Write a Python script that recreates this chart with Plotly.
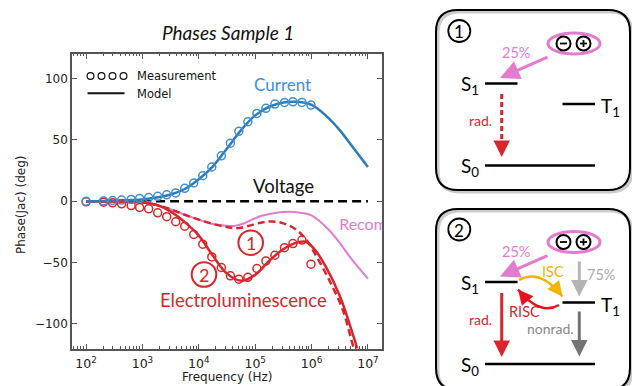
import plotly.graph_objects as go

W, H = 632, 386

# ---------------- data ----------------
meas_freq = [100, 204, 295, 427, 631, 891, 1288, 1862, 2692, 3890, 5623, 8128,
             11750, 16980, 25120, 36310, 51290, 74130, 107200, 154900, 223900,
             331100, 467700, 676100, 977200]
current_meas = [0, 0.3, 0.6, 1.0, 1.5, 2.3, 3.0, 4.0, 5.2, 6.8, 10.5, 14.9, 20.8,
                27.9, 37.0, 47.3, 57.0, 64.8, 71.6, 75.7, 79.2, 80.5, 81.0, 80.5, 78.4]
el_meas = [-0.5, -0.8, -1.3, -2.1, -3.5, -5.1, -6.2, -9.4, -12.6, -16.7, -20.3, -27.0,
           -35.0, -45.4, -54.0, -60.8, -63.5, -62.0, -54.8, -48.6, -44.0, -37.8,
           -34.5, -31.6, -51.3]

current_model_logf = [2.0, 2.5, 3.0, 3.25, 3.5, 3.75, 4.0, 4.25, 4.5, 4.75, 5.0, 5.25,
                      5.5, 5.75, 6.0, 6.25, 6.5, 6.75, 7.0]
current_model = [0, 0.5, 1.5, 3.0, 5.5, 10.0, 18.0, 28.5, 43.0, 58.0, 70.0, 77.0,
                 80.5, 81.0, 78.5, 70.0, 58.0, 43.0, 28.0]

el2_model_logf = [2.0, 2.5, 3.0, 3.25, 3.5, 3.75, 4.0, 4.25, 4.5, 4.75, 5.0, 5.25,
                  5.5, 5.75, 5.9, 6.05, 6.25, 6.5, 6.75, 7.0]
el2_model = [0, -0.3, -0.8, -3.0, -8.5, -17.0, -28.0, -44.5, -59.0, -64.8, -60.0,
             -48.5, -39.0, -33.5, -33.0, -39.0, -53.0, -77.0, -111.0, -150.0]

el1_model_logf = [2.0, 2.5, 3.0, 3.25, 3.5, 3.75, 4.0, 4.25, 4.5, 4.65, 4.85, 5.1,
                  5.3, 5.5, 5.72, 5.9, 6.1, 6.3, 6.55, 6.75, 7.0]
el1_model = [0, -0.3, -1.0, -3.0, -6.5, -11.0, -15.0, -18.5, -21.0, -22.0, -20.5,
             -17.5, -16.5, -18.0, -23.0, -31.0, -46.0, -63.0, -88.0, -120.0, -155.0]

recomb_model_logf = [2.0, 2.5, 3.0, 3.25, 3.5, 3.75, 4.0, 4.25, 4.5, 4.65, 4.8, 5.1,
                     5.35, 5.6, 5.8, 6.0, 6.3, 6.5, 6.7, 7.0]
recomb_model = [0, -0.3, -1.0, -3.0, -6.5, -11.0, -15.0, -18.5, -20.0, -20.0, -18.0,
                -12.0, -9.5, -8.6, -9.3, -11.5, -23.0, -34.0, -46.5, -63.0]

voltage_logf = [2.0, 7.0]
voltage_model = [0, 0]

x_tick_exp = [2, 3, 4, 5, 6, 7]
y_ticks = [-100, -50, 0, 50, 100]

# label anchor for the clipped "Recomb." text (data coords: log10 f, phase)
recomb_label_logf = 6.49
recomb_label_phase = -20.5

# ---------------- colours ----------------
BLUE = "#2b7bba"
BLUE_L = "#3f8fd2"
RED = "#d9262c"
PINK = "#e27ccf"
GOLD = "#f2b400"
GRAY_L = "#b4b4b4"
GRAY_D = "#747474"
AX = "#555555"


def X(p):
    return p / W


def Y(p):
    return 1 - p / H


def hz(lst):
    return [10 ** v for v in lst]


fig = go.Figure()

fig.add_trace(go.Scatter(x=hz(voltage_logf), y=voltage_model, mode="lines",
                         line=dict(color="black", width=2.5, dash="9px,5px")))
fig.add_trace(go.Scatter(x=hz(recomb_model_logf), y=recomb_model, mode="lines",
                         line=dict(color=PINK, width=2, shape="spline")))
fig.add_trace(go.Scatter(x=hz(el1_model_logf), y=el1_model, mode="lines",
                         line=dict(color=RED, width=2.5, shape="spline", dash="7px,4px")))
fig.add_trace(go.Scatter(x=hz(el2_model_logf), y=el2_model, mode="lines",
                         line=dict(color=RED, width=2.5, shape="spline")))
fig.add_trace(go.Scatter(x=hz(current_model_logf), y=current_model, mode="lines",
                         line=dict(color=BLUE, width=2.5, shape="spline")))
fig.add_trace(go.Scatter(x=meas_freq, y=el_meas, mode="markers",
                         marker=dict(symbol="circle-open", size=8, color=RED,
                                     line=dict(width=1.5, color=RED))))
fig.add_trace(go.Scatter(x=meas_freq, y=current_meas, mode="markers",
                         marker=dict(symbol="circle-open", size=8, color=BLUE_L,
                                     line=dict(width=1.5, color=BLUE_L))))
# "Recomb." label, clipped by the axes like in the reference
fig.add_trace(go.Scatter(x=[10 ** recomb_label_logf], y=[recomb_label_phase],
                         mode="text", text=["Recomb."], textposition="middle right",
                         cliponaxis=True,
                         textfont=dict(family="Lato", size=16, color=PINK)))

minor_vals = [m * 10 ** e for e in range(1, 8) for m in range(2, 10)]

fig.update_layout(
    width=W, height=H,
    margin=dict(l=0, r=0, t=0, b=0),
    paper_bgcolor="white", plot_bgcolor="white",
    showlegend=False,
    xaxis=dict(type="log", range=[1.75, 7.25], domain=[X(72), X(382)],
               showline=True, linecolor=AX, linewidth=1.5, mirror="ticks",
               ticks="inside", ticklen=5, tickwidth=1, tickcolor=AX,
               tickmode="array", tickvals=[10 ** e for e in x_tick_exp],
               ticktext=["10<sup>%d</sup>" % e for e in x_tick_exp],
               tickfont=dict(family="DejaVu Sans", size=12.5, color="#222"),
               ticklabelstandoff=3,
               showgrid=False, zeroline=False, automargin=False,
               minor=dict(ticks="inside", ticklen=2.5, tickwidth=1, tickcolor=AX,
                          tickmode="array", tickvals=minor_vals, showgrid=False)),
    yaxis=dict(range=[-120, 120], domain=[Y(348.5), Y(54)],
               showline=True, linecolor=AX, linewidth=1.5, mirror="ticks",
               ticks="inside", ticklen=5, tickwidth=1, tickcolor=AX,
               tickmode="array", tickvals=y_ticks,
               tickfont=dict(family="DejaVu Sans", size=12, color="#222"),
               showgrid=False, zeroline=False, automargin=False),
)

ann = []
shapes = []


def text(x, y, s, size, color="#111", family="Lato", xanchor="center", angle=0):
    ann.append(dict(x=X(x), y=Y(y), xref="paper", yref="paper", text=s, showarrow=False,
                    xanchor=xanchor, yanchor="middle", textangle=angle,
                    font=dict(family=family, size=size, color=color)))


def circ(cx, cy, r, color, width, fill="rgba(0,0,0,0)", ry=None):
    ry = r if ry is None else ry
    shapes.append(dict(type="circle", xref="paper", yref="paper",
                       x0=X(cx - r), x1=X(cx + r), y0=Y(cy + ry), y1=Y(cy - ry),
                       line=dict(color=color, width=width), fillcolor=fill))


def seg(x0, y0, x1, y1, color, width, dash="solid"):
    shapes.append(dict(type="line", xref="paper", yref="paper",
                       x0=X(x0), y0=Y(y0), x1=X(x1), y1=Y(y1),
                       line=dict(color=color, width=width, dash=dash)))


def arrow(tx, ty, hx, hy, color, width, size=1.0):
    ann.append(dict(x=X(hx), y=Y(hy), xref="paper", yref="paper", text="",
                    showarrow=True, ax=tx - hx, ay=ty - hy, axref="pixel", ayref="pixel",
                    arrowhead=2, arrowsize=size, arrowwidth=width, arrowcolor=color,
                    standoff=0, startstandoff=0))


def P(x, y):
    return "%.5f,%.5f" % (X(x), Y(y))


def curve(x0, y0, cx, cy, x1, y1, color, width):
    shapes.append(dict(type="path", xref="paper", yref="paper",
                       path="M %s Q %s %s" % (P(x0, y0), P(cx, cy), P(x1, y1)),
                       line=dict(color=color, width=width)))
    dx, dy = x1 - cx, y1 - cy
    n = (dx * dx + dy * dy) ** 0.5
    arrow(x1 - dx / n * 9, y1 - dy / n * 9, x1, y1, color, 2.5, 1.2)


def rrect(x0, y0, x1, y1, r, color, width):
    p = ("M %s L %s Q %s %s L %s Q %s %s L %s Q %s %s L %s Q %s %s Z" % (
        P(x0 + r, y0), P(x1 - r, y0), P(x1, y0), P(x1, y0 + r), P(x1, y1 - r),
        P(x1, y1), P(x1 - r, y1), P(x0 + r, y1), P(x0, y1), P(x0, y1 - r),
        P(x0, y0 + r), P(x0, y0), P(x0 + r, y0)))
    shapes.append(dict(type="path", xref="paper", yref="paper", path=p,
                       line=dict(color=color, width=width)))


# ----- chart texts -----
text(228, 33, "<i>Phases Sample 1</i>", 19)
text(227, 377, "Frequency (Hz)", 12, "#222", "DejaVu Sans")
text(21, 205, "Phase(Jac) (deg)", 12, "#222", "DejaVu Sans", angle=-90)

# legend
for cx in [90.5, 101.5, 112.5, 123.5]:
    circ(cx, 76, 3.4, "#111", 1.2)
seg(87.5, 93.3, 124.5, 93.3, "#111", 2)
text(135, 76, "Measurement", 11.5, "#111", "DejaVu Sans", "left")
text(135, 94, "Model", 11.5, "#111", "DejaVu Sans", "left")

text(282, 84, "Current", 17, BLUE_L)
text(283, 186, "Voltage", 18.5, "#111")
text(243, 300, "Electroluminescence", 18.5, RED)
circ(250.7, 242.7, 12.3, RED, 2)
text(250.7, 243, "1", 18, RED)
circ(204, 274.5, 12.3, RED, 2)
text(204, 275, "2", 18, RED)

# ----- diagram panels -----
for top, bot in [(10, 190), (209, 390)]:
    rrect(438, top + 2, 632, bot + 2, 22, "#cccccc", 3)
    rrect(436, top, 630, bot, 22, "black", 2)


def panel_common(oy, label):
    # oy: vertical offset of the panel
    circ(459.3, 31 + oy, 11, "black", 1.8)
    text(459.3, 32 + oy, label, 17, "black")
    circ(574, 43.5 + oy, 26, PINK, 3, ry=10.5)
    circ(563.5, 43.5 + oy, 7, "black", 2)
    circ(583.5, 43.5 + oy, 7, "black", 2)
    seg(560, 43.5 + oy, 567, 43.5 + oy, "black", 1.8)
    seg(580, 43.5 + oy, 587, 43.5 + oy, "black", 1.8)
    seg(583.5, 40 + oy, 583.5, 47 + oy, "black", 1.8)
    text(516, 52.5 + oy, "25%", 14.5, PINK)
    arrow(549, 56.5 + oy, 500, 78 + oy, PINK, 3, 1.3)
    seg(485, 83.5 + oy, 517.5, 83.5 + oy, "black", 2.5)
    seg(562.5, 104 + oy, 595, 104 + oy, "black", 2.5)
    seg(485, 165.5 + oy, 595, 165.5 + oy, "black", 2.5)
    text(481, 85 + oy, "S<sub>1</sub>", 19, "black", xanchor="right")
    text(599, 107 + oy, "T<sub>1</sub>", 19, "black", xanchor="left")
    text(481, 167 + oy, "S<sub>0</sub>", 19, "black", xanchor="right")


# panel 1
panel_common(0, "1")
seg(501.7, 94, 501.7, 150, RED, 3, "5px,3px")
arrow(501.7, 148, 501.7, 157, RED, 3, 1.1)
text(480, 120, "rad.", 14, RED)

# panel 2
oy = 198.5
panel_common(oy, "2")
arrow(501.7, 291.5, 501.7, 357, RED, 3, 1.1)
text(480, 319, "rad.", 14, RED)
arrow(579.3, 260, 579.3, 296.5, GRAY_L, 3, 1.1)
text(601, 274, "75%", 14.5, "#aaaaaa")
arrow(579.3, 310, 579.3, 356.5, GRAY_D, 3, 1.1)
text(550, 328.5, "nonrad.", 14, "#888888")
curve(519, 280, 540, 268, 562.5, 296.5, GOLD, 2.5)
text(553, 271, "ISC", 14.5, GOLD)
curve(559, 305, 540, 316, 518, 289.5, "#e8141c", 2.5)
text(524, 311, "RISC", 14.5, RED)

fig.update_layout(annotations=ann, shapes=shapes)
fig.write_html("out.html", config={"displayModeBar": False},
               post_script="document.body.style.margin='0';document.body.style.padding='0';"
                           "document.body.style.overflow='hidden';")
